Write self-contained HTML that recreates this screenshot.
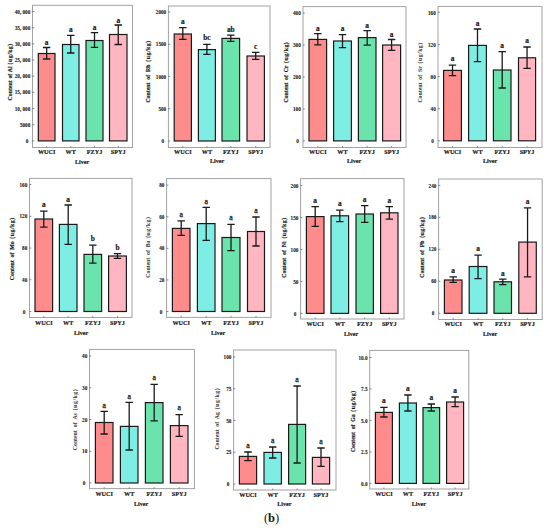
<!DOCTYPE html>
<html><head><meta charset="utf-8"><style>
html,body{margin:0;padding:0;background:#fff;}
body{width:550px;height:530px;overflow:hidden;}
svg{display:block;}
text{font-family:"Liberation Serif",serif;fill:#1a1a1a;stroke:#1a1a1a;stroke-width:0.18px;}
.tk{font-size:5.2px;font-weight:bold;text-anchor:end;stroke-width:0.1px;}
.lt{font-size:7.4px;font-weight:bold;text-anchor:middle;}
.lr{font-size:7.8px;font-weight:normal;stroke-width:0.3px;}
.xl{font-size:6.2px;font-weight:bold;text-anchor:middle;}
.lv{font-size:6.1px;font-weight:bold;text-anchor:middle;}
.yl{font-size:5.8px;text-anchor:middle;}
.ug{letter-spacing:0.5px;}
.cap{font-size:12.5px;text-anchor:middle;}
</style></head><body>
<svg width="550" height="530" viewBox="0 0 550 530">
<rect width="550" height="530" fill="#fff"/>
<rect x="32.5" y="5.3" width="100" height="142.2" fill="none" stroke="#a2a2a2" stroke-width="1"/>
<line x1="32.5" y1="140.9" x2="34.3" y2="140.9" stroke="#555" stroke-width="0.7"/>
<text class="tk" x="28.3" y="143">0</text>
<line x1="32.5" y1="124.73" x2="34.3" y2="124.73" stroke="#555" stroke-width="0.7"/>
<text class="tk" x="30.3" y="126.83">5000</text>
<line x1="32.5" y1="108.55" x2="34.3" y2="108.55" stroke="#555" stroke-width="0.7"/>
<text class="tk" x="30.3" y="110.65">10, 000</text>
<line x1="32.5" y1="92.38" x2="34.3" y2="92.38" stroke="#555" stroke-width="0.7"/>
<text class="tk" x="30.3" y="94.47">15, 000</text>
<line x1="32.5" y1="76.2" x2="34.3" y2="76.2" stroke="#555" stroke-width="0.7"/>
<text class="tk" x="30.3" y="78.3">20, 000</text>
<line x1="32.5" y1="60.03" x2="34.3" y2="60.03" stroke="#555" stroke-width="0.7"/>
<text class="tk" x="30.3" y="62.13">25, 000</text>
<line x1="32.5" y1="43.85" x2="34.3" y2="43.85" stroke="#555" stroke-width="0.7"/>
<text class="tk" x="30.3" y="45.95">30, 000</text>
<line x1="32.5" y1="27.67" x2="34.3" y2="27.67" stroke="#555" stroke-width="0.7"/>
<text class="tk" x="30.3" y="29.77">35, 000</text>
<line x1="32.5" y1="11.5" x2="34.3" y2="11.5" stroke="#555" stroke-width="0.7"/>
<text class="tk" x="30.3" y="13.6">40, 000</text>
<rect x="38.3" y="53.5" width="16.7" height="87.4" fill="#ff8c8c" stroke="#1a1a1a" stroke-width="1.2"/>
<path d="M46.65 47.5V59M42.95 47.5H50.35M42.95 59H50.35" stroke="#1a1a1a" stroke-width="1.3" fill="none"/>
<text class="lt" x="46.65" y="44.5">a</text>
<line x1="46.65" y1="147.5" x2="46.65" y2="145.9" stroke="#555" stroke-width="0.6"/>
<text class="xl" x="46.65" y="154.1">WUCI</text>
<rect x="62.5" y="44.5" width="16.5" height="96.4" fill="#7eeee4" stroke="#1a1a1a" stroke-width="1.2"/>
<path d="M70.75 35.3V53M67.05 35.3H74.45M67.05 53H74.45" stroke="#1a1a1a" stroke-width="1.3" fill="none"/>
<text class="lt" x="70.75" y="32">a</text>
<line x1="70.75" y1="147.5" x2="70.75" y2="145.9" stroke="#555" stroke-width="0.6"/>
<text class="xl" x="70.75" y="154.1">WT</text>
<rect x="86" y="40.5" width="17" height="100.4" fill="#6ae3ad" stroke="#1a1a1a" stroke-width="1.2"/>
<path d="M94.5 32.7V47.3M90.8 32.7H98.2M90.8 47.3H98.2" stroke="#1a1a1a" stroke-width="1.3" fill="none"/>
<text class="lt" x="94.5" y="30">a</text>
<line x1="94.5" y1="147.5" x2="94.5" y2="145.9" stroke="#555" stroke-width="0.6"/>
<text class="xl" x="94.5" y="154.1">FZYJ</text>
<rect x="109.5" y="34.5" width="17.5" height="106.4" fill="#ffb6c0" stroke="#1a1a1a" stroke-width="1.2"/>
<path d="M118.25 25V44.5M114.55 25H121.95M114.55 44.5H121.95" stroke="#1a1a1a" stroke-width="1.3" fill="none"/>
<text class="lt" x="118.25" y="23">a</text>
<line x1="118.25" y1="147.5" x2="118.25" y2="145.9" stroke="#555" stroke-width="0.6"/>
<text class="xl" x="118.25" y="154.1">SPYJ</text>
<text class="lv" x="82" y="163.6">Liver</text>
<text class="yl" font-weight="bold" style="fill:#1a1a1a;stroke:#1a1a1a;stroke-width:0.18px" word-spacing="0.42" transform="translate(11.7 71.85) rotate(-90)" x="0" y="0">Content of Al <tspan class="ug">(ug/kg)</tspan></text>
<rect x="168.4" y="6" width="101.6" height="141.5" fill="none" stroke="#a2a2a2" stroke-width="1"/>
<line x1="168.4" y1="141" x2="170.2" y2="141" stroke="#555" stroke-width="0.7"/>
<text class="tk" x="164.2" y="143.1">0</text>
<line x1="168.4" y1="108.75" x2="170.2" y2="108.75" stroke="#555" stroke-width="0.7"/>
<text class="tk" x="166.2" y="110.85">500</text>
<line x1="168.4" y1="76.5" x2="170.2" y2="76.5" stroke="#555" stroke-width="0.7"/>
<text class="tk" x="166.2" y="78.6">1000</text>
<line x1="168.4" y1="44.25" x2="170.2" y2="44.25" stroke="#555" stroke-width="0.7"/>
<text class="tk" x="166.2" y="46.35">1500</text>
<line x1="168.4" y1="12" x2="170.2" y2="12" stroke="#555" stroke-width="0.7"/>
<text class="tk" x="166.2" y="14.1">2000</text>
<rect x="174.2" y="34" width="17.2" height="107" fill="#ff8c8c" stroke="#1a1a1a" stroke-width="1.2"/>
<path d="M182.8 27.6V39.4M179.1 27.6H186.5M179.1 39.4H186.5" stroke="#1a1a1a" stroke-width="1.3" fill="none"/>
<text class="lt" x="182.8" y="23.6">a</text>
<line x1="182.8" y1="147.5" x2="182.8" y2="145.9" stroke="#555" stroke-width="0.6"/>
<text class="xl" x="182.8" y="154.1">WUCI</text>
<rect x="198.4" y="49.6" width="17" height="91.4" fill="#7eeee4" stroke="#1a1a1a" stroke-width="1.2"/>
<path d="M206.9 44.4V54.4M203.2 44.4H210.6M203.2 54.4H210.6" stroke="#1a1a1a" stroke-width="1.3" fill="none"/>
<text class="lt" x="206.9" y="40">bc</text>
<line x1="206.9" y1="147.5" x2="206.9" y2="145.9" stroke="#555" stroke-width="0.6"/>
<text class="xl" x="206.9" y="154.1">WT</text>
<rect x="222" y="38.4" width="17.6" height="102.6" fill="#6ae3ad" stroke="#1a1a1a" stroke-width="1.2"/>
<path d="M230.8 35.2V41.4M227.1 35.2H234.5M227.1 41.4H234.5" stroke="#1a1a1a" stroke-width="1.3" fill="none"/>
<text class="lt" x="230.8" y="31.6">ab</text>
<line x1="230.8" y1="147.5" x2="230.8" y2="145.9" stroke="#555" stroke-width="0.6"/>
<text class="xl" x="230.8" y="154.1">FZYJ</text>
<rect x="247" y="56" width="17.4" height="85" fill="#ffb6c0" stroke="#1a1a1a" stroke-width="1.2"/>
<path d="M255.7 52.4V59.4M252 52.4H259.4M252 59.4H259.4" stroke="#1a1a1a" stroke-width="1.3" fill="none"/>
<text class="lt" x="255.7" y="49.2">c</text>
<line x1="255.7" y1="147.5" x2="255.7" y2="145.9" stroke="#555" stroke-width="0.6"/>
<text class="xl" x="255.7" y="154.1">SPYJ</text>
<text class="lv" x="217" y="163.3">Liver</text>
<text class="yl" font-weight="bold" style="fill:#1a1a1a;stroke:#1a1a1a;stroke-width:0.18px" word-spacing="1.47" transform="translate(150.2 71.5) rotate(-90)" x="0" y="0">Content of Rb <tspan class="ug">(ug/kg)</tspan></text>
<rect x="303" y="6.6" width="103" height="140.9" fill="none" stroke="#a2a2a2" stroke-width="1"/>
<line x1="303" y1="140.9" x2="304.8" y2="140.9" stroke="#555" stroke-width="0.7"/>
<text class="tk" x="298.8" y="143">0</text>
<line x1="303" y1="108.98" x2="304.8" y2="108.98" stroke="#555" stroke-width="0.7"/>
<text class="tk" x="300.8" y="111.08">100</text>
<line x1="303" y1="77.05" x2="304.8" y2="77.05" stroke="#555" stroke-width="0.7"/>
<text class="tk" x="300.8" y="79.15">200</text>
<line x1="303" y1="45.12" x2="304.8" y2="45.12" stroke="#555" stroke-width="0.7"/>
<text class="tk" x="300.8" y="47.23">300</text>
<line x1="303" y1="13.2" x2="304.8" y2="13.2" stroke="#555" stroke-width="0.7"/>
<text class="tk" x="300.8" y="15.3">400</text>
<rect x="309" y="39.4" width="17.6" height="101.5" fill="#ff8c8c" stroke="#1a1a1a" stroke-width="1.2"/>
<path d="M317.8 33.6V44.8M314.1 33.6H321.5M314.1 44.8H321.5" stroke="#1a1a1a" stroke-width="1.3" fill="none"/>
<text class="lt" x="317.8" y="31">a</text>
<line x1="317.8" y1="147.5" x2="317.8" y2="145.9" stroke="#555" stroke-width="0.6"/>
<text class="xl" x="317.8" y="153.7">WUCI</text>
<rect x="333.6" y="41" width="17.8" height="99.9" fill="#7eeee4" stroke="#1a1a1a" stroke-width="1.2"/>
<path d="M342.5 34.6V47.6M338.8 34.6H346.2M338.8 47.6H346.2" stroke="#1a1a1a" stroke-width="1.3" fill="none"/>
<text class="lt" x="342.5" y="31">a</text>
<line x1="342.5" y1="147.5" x2="342.5" y2="145.9" stroke="#555" stroke-width="0.6"/>
<text class="xl" x="342.5" y="153.7">WT</text>
<rect x="358.4" y="37.6" width="17.6" height="103.3" fill="#6ae3ad" stroke="#1a1a1a" stroke-width="1.2"/>
<path d="M367.2 30.6V45.2M363.5 30.6H370.9M363.5 45.2H370.9" stroke="#1a1a1a" stroke-width="1.3" fill="none"/>
<text class="lt" x="367.2" y="28">a</text>
<line x1="367.2" y1="147.5" x2="367.2" y2="145.9" stroke="#555" stroke-width="0.6"/>
<text class="xl" x="367.2" y="153.7">FZYJ</text>
<rect x="382.6" y="45" width="18" height="95.9" fill="#ffb6c0" stroke="#1a1a1a" stroke-width="1.2"/>
<path d="M391.6 39.5V50.4M387.9 39.5H395.3M387.9 50.4H395.3" stroke="#1a1a1a" stroke-width="1.3" fill="none"/>
<text class="lt" x="391.6" y="36.5">a</text>
<line x1="391.6" y1="147.5" x2="391.6" y2="145.9" stroke="#555" stroke-width="0.6"/>
<text class="xl" x="391.6" y="153.7">SPYJ</text>
<text class="lv" x="354" y="163.3">Liver</text>
<text class="yl" font-weight="bold" style="fill:#1a1a1a;stroke:#1a1a1a;stroke-width:0.18px" word-spacing="1.29" transform="translate(287.7 72.15) rotate(-90)" x="0" y="0">Content of Cr <tspan class="ug">(ug/kg)</tspan></text>
<rect x="438" y="6.4" width="104" height="141.1" fill="none" stroke="#a2a2a2" stroke-width="1"/>
<line x1="438" y1="140.8" x2="439.8" y2="140.8" stroke="#555" stroke-width="0.7"/>
<text class="tk" x="433.8" y="142.9">0</text>
<line x1="438" y1="108.7" x2="439.8" y2="108.7" stroke="#555" stroke-width="0.7"/>
<text class="tk" x="435.8" y="110.8">40</text>
<line x1="438" y1="76.6" x2="439.8" y2="76.6" stroke="#555" stroke-width="0.7"/>
<text class="tk" x="435.8" y="78.7">80</text>
<line x1="438" y1="44.5" x2="439.8" y2="44.5" stroke="#555" stroke-width="0.7"/>
<text class="tk" x="435.8" y="46.6">120</text>
<line x1="438" y1="12.4" x2="439.8" y2="12.4" stroke="#555" stroke-width="0.7"/>
<text class="tk" x="435.8" y="14.5">160</text>
<rect x="443.6" y="70.4" width="17.8" height="70.4" fill="#ff8c8c" stroke="#1a1a1a" stroke-width="1.2"/>
<path d="M452.5 65.2V75.6M448.8 65.2H456.2M448.8 75.6H456.2" stroke="#1a1a1a" stroke-width="1.3" fill="none"/>
<text class="lt" x="452.5" y="61.2">a</text>
<line x1="452.5" y1="147.5" x2="452.5" y2="145.9" stroke="#555" stroke-width="0.6"/>
<text class="xl" x="452.5" y="154.3">WUCI</text>
<rect x="468.6" y="45.4" width="17.8" height="95.4" fill="#7eeee4" stroke="#1a1a1a" stroke-width="1.2"/>
<path d="M477.5 29V61.6M473.8 29H481.2M473.8 61.6H481.2" stroke="#1a1a1a" stroke-width="1.3" fill="none"/>
<text class="lt" x="477.5" y="25.6">a</text>
<line x1="477.5" y1="147.5" x2="477.5" y2="145.9" stroke="#555" stroke-width="0.6"/>
<text class="xl" x="477.5" y="154.3">WT</text>
<rect x="493.4" y="70" width="17.6" height="70.8" fill="#6ae3ad" stroke="#1a1a1a" stroke-width="1.2"/>
<path d="M502.2 51.6V88M498.5 51.6H505.9M498.5 88H505.9" stroke="#1a1a1a" stroke-width="1.3" fill="none"/>
<text class="lt" x="502.2" y="48">a</text>
<line x1="502.2" y1="147.5" x2="502.2" y2="145.9" stroke="#555" stroke-width="0.6"/>
<text class="xl" x="502.2" y="154.3">FZYJ</text>
<rect x="518.5" y="57.8" width="17.1" height="83" fill="#ffb6c0" stroke="#1a1a1a" stroke-width="1.2"/>
<path d="M527.05 47V68.4M523.35 47H530.75M523.35 68.4H530.75" stroke="#1a1a1a" stroke-width="1.3" fill="none"/>
<text class="lt" x="527.05" y="43.4">a</text>
<line x1="527.05" y1="147.5" x2="527.05" y2="145.9" stroke="#555" stroke-width="0.6"/>
<text class="xl" x="527.05" y="154.3">SPYJ</text>
<text class="lv" x="490" y="163.3">Liver</text>
<text class="yl" font-weight="bold" style="fill:#3a3a3a;stroke:#3a3a3a;stroke-width:0.05px" word-spacing="1.41" transform="translate(422.2 72.45) rotate(-90)" x="0" y="0">Content of Sr <tspan class="ug">(ug/kg)</tspan></text>
<rect x="29.5" y="178.4" width="102.5" height="139.1" fill="none" stroke="#a2a2a2" stroke-width="1"/>
<line x1="29.5" y1="311.5" x2="31.3" y2="311.5" stroke="#555" stroke-width="0.7"/>
<text class="tk" x="25.3" y="313.6">0</text>
<line x1="29.5" y1="279.77" x2="31.3" y2="279.77" stroke="#555" stroke-width="0.7"/>
<text class="tk" x="27.3" y="281.88">40</text>
<line x1="29.5" y1="248.05" x2="31.3" y2="248.05" stroke="#555" stroke-width="0.7"/>
<text class="tk" x="27.3" y="250.15">80</text>
<line x1="29.5" y1="216.32" x2="31.3" y2="216.32" stroke="#555" stroke-width="0.7"/>
<text class="tk" x="27.3" y="218.42">120</text>
<line x1="29.5" y1="184.6" x2="31.3" y2="184.6" stroke="#555" stroke-width="0.7"/>
<text class="tk" x="27.3" y="186.7">160</text>
<rect x="35" y="219" width="17.6" height="92.5" fill="#ff8c8c" stroke="#1a1a1a" stroke-width="1.2"/>
<path d="M43.8 211.2V227.2M40.1 211.2H47.5M40.1 227.2H47.5" stroke="#1a1a1a" stroke-width="1.3" fill="none"/>
<text class="lt" x="43.8" y="207.4">a</text>
<line x1="43.8" y1="317.5" x2="43.8" y2="315.9" stroke="#555" stroke-width="0.6"/>
<text class="xl" x="43.8" y="324.9">WUCI</text>
<rect x="59.4" y="224.4" width="17.6" height="87.1" fill="#7eeee4" stroke="#1a1a1a" stroke-width="1.2"/>
<path d="M68.2 205V244.4M64.5 205H71.9M64.5 244.4H71.9" stroke="#1a1a1a" stroke-width="1.3" fill="none"/>
<text class="lt" x="68.2" y="201.6">a</text>
<line x1="68.2" y1="317.5" x2="68.2" y2="315.9" stroke="#555" stroke-width="0.6"/>
<text class="xl" x="68.2" y="324.9">WT</text>
<rect x="84" y="254.4" width="17.6" height="57.1" fill="#6ae3ad" stroke="#1a1a1a" stroke-width="1.2"/>
<path d="M92.8 245.2V263.2M89.1 245.2H96.5M89.1 263.2H96.5" stroke="#1a1a1a" stroke-width="1.3" fill="none"/>
<text class="lt" x="92.8" y="241">b</text>
<line x1="92.8" y1="317.5" x2="92.8" y2="315.9" stroke="#555" stroke-width="0.6"/>
<text class="xl" x="92.8" y="324.9">FZYJ</text>
<rect x="108.6" y="256" width="17.8" height="55.5" fill="#ffb6c0" stroke="#1a1a1a" stroke-width="1.2"/>
<path d="M117.5 253.6V258.4M113.8 253.6H121.2M113.8 258.4H121.2" stroke="#1a1a1a" stroke-width="1.3" fill="none"/>
<text class="lt" x="117.5" y="249.6">b</text>
<line x1="117.5" y1="317.5" x2="117.5" y2="315.9" stroke="#555" stroke-width="0.6"/>
<text class="xl" x="117.5" y="324.9">SPYJ</text>
<text class="lv" x="81" y="334.7">Liver</text>
<text class="yl" font-weight="bold" style="fill:#1a1a1a;stroke:#1a1a1a;stroke-width:0.18px" word-spacing="1.35" transform="translate(13.7 248.8) rotate(-90)" x="0" y="0">Content of Mo <tspan class="ug">(ug/kg)</tspan></text>
<rect x="166.6" y="178.6" width="104.4" height="138.8" fill="none" stroke="#a2a2a2" stroke-width="1"/>
<line x1="166.6" y1="311.5" x2="168.4" y2="311.5" stroke="#555" stroke-width="0.7"/>
<text class="tk" x="162.4" y="313.6">0</text>
<line x1="166.6" y1="279.93" x2="168.4" y2="279.93" stroke="#555" stroke-width="0.7"/>
<text class="tk" x="164.4" y="282.03">20</text>
<line x1="166.6" y1="248.35" x2="168.4" y2="248.35" stroke="#555" stroke-width="0.7"/>
<text class="tk" x="164.4" y="250.45">40</text>
<line x1="166.6" y1="216.77" x2="168.4" y2="216.77" stroke="#555" stroke-width="0.7"/>
<text class="tk" x="164.4" y="218.87">60</text>
<line x1="166.6" y1="185.2" x2="168.4" y2="185.2" stroke="#555" stroke-width="0.7"/>
<text class="tk" x="164.4" y="187.3">80</text>
<rect x="172.4" y="228.4" width="17.6" height="83.1" fill="#ff8c8c" stroke="#1a1a1a" stroke-width="1.2"/>
<path d="M181.2 220.8V235.4M177.5 220.8H184.9M177.5 235.4H184.9" stroke="#1a1a1a" stroke-width="1.3" fill="none"/>
<text class="lt lr" x="181.2" y="217">a</text>
<line x1="181.2" y1="317.4" x2="181.2" y2="315.8" stroke="#555" stroke-width="0.6"/>
<text class="xl" x="181.2" y="324.5">WUCI</text>
<rect x="197.4" y="223.6" width="17.6" height="87.9" fill="#7eeee4" stroke="#1a1a1a" stroke-width="1.2"/>
<path d="M206.2 207.4V240.4M202.5 207.4H209.9M202.5 240.4H209.9" stroke="#1a1a1a" stroke-width="1.3" fill="none"/>
<text class="lt lr" x="206.2" y="203.6">a</text>
<line x1="206.2" y1="317.4" x2="206.2" y2="315.8" stroke="#555" stroke-width="0.6"/>
<text class="xl" x="206.2" y="324.5">WT</text>
<rect x="222" y="237.5" width="18" height="74" fill="#6ae3ad" stroke="#1a1a1a" stroke-width="1.2"/>
<path d="M231 224.3V250.6M227.3 224.3H234.7M227.3 250.6H234.7" stroke="#1a1a1a" stroke-width="1.3" fill="none"/>
<text class="lt lr" x="231" y="220">a</text>
<line x1="231" y1="317.4" x2="231" y2="315.8" stroke="#555" stroke-width="0.6"/>
<text class="xl" x="231" y="324.5">FZYJ</text>
<rect x="247.5" y="231.5" width="17" height="80" fill="#ffb6c0" stroke="#1a1a1a" stroke-width="1.2"/>
<path d="M256 217V246M252.3 217H259.7M252.3 246H259.7" stroke="#1a1a1a" stroke-width="1.3" fill="none"/>
<text class="lt lr" x="256" y="213">a</text>
<line x1="256" y1="317.4" x2="256" y2="315.8" stroke="#555" stroke-width="0.6"/>
<text class="xl" x="256" y="324.5">SPYJ</text>
<text class="lv" x="218" y="334.7">Liver</text>
<text class="yl" font-weight="bold" style="fill:#3a3a3a;stroke:#3a3a3a;stroke-width:0.05px" word-spacing="1.32" transform="translate(150.2 247.15) rotate(-90)" x="0" y="0">Content of Ba <tspan class="ug">(ug/kg)</tspan></text>
<rect x="300.6" y="178.6" width="103.4" height="140.4" fill="none" stroke="#a2a2a2" stroke-width="1"/>
<line x1="300.6" y1="313.4" x2="302.4" y2="313.4" stroke="#555" stroke-width="0.7"/>
<text class="tk" x="296.4" y="315.5">0</text>
<line x1="300.6" y1="281.4" x2="302.4" y2="281.4" stroke="#555" stroke-width="0.7"/>
<text class="tk" x="298.4" y="283.5">50</text>
<line x1="300.6" y1="249.4" x2="302.4" y2="249.4" stroke="#555" stroke-width="0.7"/>
<text class="tk" x="298.4" y="251.5">100</text>
<line x1="300.6" y1="217.4" x2="302.4" y2="217.4" stroke="#555" stroke-width="0.7"/>
<text class="tk" x="298.4" y="219.5">150</text>
<line x1="300.6" y1="185.4" x2="302.4" y2="185.4" stroke="#555" stroke-width="0.7"/>
<text class="tk" x="298.4" y="187.5">200</text>
<rect x="306.4" y="216.6" width="17.6" height="96.8" fill="#ff8c8c" stroke="#1a1a1a" stroke-width="1.2"/>
<path d="M315.2 206.6V226.4M311.5 206.6H318.9M311.5 226.4H318.9" stroke="#1a1a1a" stroke-width="1.3" fill="none"/>
<text class="lt" x="315.2" y="202.6">a</text>
<line x1="315.2" y1="319" x2="315.2" y2="317.4" stroke="#555" stroke-width="0.6"/>
<text class="xl" x="315.2" y="326.1">WUCI</text>
<rect x="331" y="215.8" width="17.6" height="97.6" fill="#7eeee4" stroke="#1a1a1a" stroke-width="1.2"/>
<path d="M339.8 210.2V221.6M336.1 210.2H343.5M336.1 221.6H343.5" stroke="#1a1a1a" stroke-width="1.3" fill="none"/>
<text class="lt" x="339.8" y="206.4">a</text>
<line x1="339.8" y1="319" x2="339.8" y2="317.4" stroke="#555" stroke-width="0.6"/>
<text class="xl" x="339.8" y="326.1">WT</text>
<rect x="356" y="214" width="17.4" height="99.4" fill="#6ae3ad" stroke="#1a1a1a" stroke-width="1.2"/>
<path d="M364.7 205.6V222.4M361 205.6H368.4M361 222.4H368.4" stroke="#1a1a1a" stroke-width="1.3" fill="none"/>
<text class="lt" x="364.7" y="201.6">a</text>
<line x1="364.7" y1="319" x2="364.7" y2="317.4" stroke="#555" stroke-width="0.6"/>
<text class="xl" x="364.7" y="326.1">FZYJ</text>
<rect x="380.6" y="212.8" width="17.4" height="100.6" fill="#ffb6c0" stroke="#1a1a1a" stroke-width="1.2"/>
<path d="M389.3 206.6V219.2M385.6 206.6H393M385.6 219.2H393" stroke="#1a1a1a" stroke-width="1.3" fill="none"/>
<text class="lt" x="389.3" y="203">a</text>
<line x1="389.3" y1="319" x2="389.3" y2="317.4" stroke="#555" stroke-width="0.6"/>
<text class="xl" x="389.3" y="326.1">SPYJ</text>
<text class="lv" x="351" y="335.5">Liver</text>
<text class="yl" font-weight="bold" style="fill:#1a1a1a;stroke:#1a1a1a;stroke-width:0.18px" word-spacing="1.38" transform="translate(286.4 247.55) rotate(-90)" x="0" y="0">Content of Ni <tspan class="ug">(ug/kg)</tspan></text>
<rect x="438.6" y="179" width="103.6" height="140.5" fill="none" stroke="#a2a2a2" stroke-width="1"/>
<line x1="438.6" y1="313.3" x2="440.4" y2="313.3" stroke="#555" stroke-width="0.7"/>
<text class="tk" x="434.4" y="315.4">0</text>
<line x1="438.6" y1="281.32" x2="440.4" y2="281.32" stroke="#555" stroke-width="0.7"/>
<text class="tk" x="436.4" y="283.43">60</text>
<line x1="438.6" y1="249.35" x2="440.4" y2="249.35" stroke="#555" stroke-width="0.7"/>
<text class="tk" x="436.4" y="251.45">120</text>
<line x1="438.6" y1="217.38" x2="440.4" y2="217.38" stroke="#555" stroke-width="0.7"/>
<text class="tk" x="436.4" y="219.47">180</text>
<line x1="438.6" y1="185.4" x2="440.4" y2="185.4" stroke="#555" stroke-width="0.7"/>
<text class="tk" x="436.4" y="187.5">240</text>
<rect x="444.4" y="280" width="17.6" height="33.3" fill="#ff8c8c" stroke="#1a1a1a" stroke-width="1.2"/>
<path d="M453.2 276.9V282.3M449.5 276.9H456.9M449.5 282.3H456.9" stroke="#1a1a1a" stroke-width="1.3" fill="none"/>
<text class="lt" x="453.2" y="273.2">a</text>
<line x1="453.2" y1="319.5" x2="453.2" y2="317.9" stroke="#555" stroke-width="0.6"/>
<text class="xl" x="453.2" y="326.3">WUCI</text>
<rect x="469.2" y="266.5" width="17.7" height="46.8" fill="#7eeee4" stroke="#1a1a1a" stroke-width="1.2"/>
<path d="M478.05 255.1V278.7M474.35 255.1H481.75M474.35 278.7H481.75" stroke="#1a1a1a" stroke-width="1.3" fill="none"/>
<text class="lt" x="478.05" y="251.2">a</text>
<line x1="478.05" y1="319.5" x2="478.05" y2="317.9" stroke="#555" stroke-width="0.6"/>
<text class="xl" x="478.05" y="326.3">WT</text>
<rect x="494" y="281.8" width="17.5" height="31.5" fill="#6ae3ad" stroke="#1a1a1a" stroke-width="1.2"/>
<path d="M502.75 279.2V284.7M499.05 279.2H506.45M499.05 284.7H506.45" stroke="#1a1a1a" stroke-width="1.3" fill="none"/>
<text class="lt" x="502.75" y="275.5">a</text>
<line x1="502.75" y1="319.5" x2="502.75" y2="317.9" stroke="#555" stroke-width="0.6"/>
<text class="xl" x="502.75" y="326.3">FZYJ</text>
<rect x="518.8" y="242.1" width="17.5" height="71.2" fill="#ffb6c0" stroke="#1a1a1a" stroke-width="1.2"/>
<path d="M527.55 207.8V276.9M523.85 207.8H531.25M523.85 276.9H531.25" stroke="#1a1a1a" stroke-width="1.3" fill="none"/>
<text class="lt" x="527.55" y="203.9">a</text>
<line x1="527.55" y1="319.5" x2="527.55" y2="317.9" stroke="#555" stroke-width="0.6"/>
<text class="xl" x="527.55" y="326.3">SPYJ</text>
<text class="lv" x="490" y="335.8">Liver</text>
<text class="yl" font-weight="bold" style="fill:#1a1a1a;stroke:#1a1a1a;stroke-width:0.18px" word-spacing="1.32" transform="translate(423.7 247.15) rotate(-90)" x="0" y="0">Content of Pb <tspan class="ug">(ug/kg)</tspan></text>
<rect x="89.5" y="349.4" width="104.9" height="139.2" fill="none" stroke="#a2a2a2" stroke-width="1"/>
<line x1="89.5" y1="483" x2="91.3" y2="483" stroke="#555" stroke-width="0.7"/>
<text class="tk" x="85.3" y="485.1">0</text>
<line x1="89.5" y1="451.25" x2="91.3" y2="451.25" stroke="#555" stroke-width="0.7"/>
<text class="tk" x="87.3" y="453.35">10</text>
<line x1="89.5" y1="419.5" x2="91.3" y2="419.5" stroke="#555" stroke-width="0.7"/>
<text class="tk" x="87.3" y="421.6">20</text>
<line x1="89.5" y1="387.75" x2="91.3" y2="387.75" stroke="#555" stroke-width="0.7"/>
<text class="tk" x="87.3" y="389.85">30</text>
<line x1="89.5" y1="356" x2="91.3" y2="356" stroke="#555" stroke-width="0.7"/>
<text class="tk" x="87.3" y="358.1">40</text>
<rect x="95.4" y="422.5" width="17.6" height="60.5" fill="#ff8c8c" stroke="#1a1a1a" stroke-width="1.2"/>
<path d="M104.2 411.4V434M100.5 411.4H107.9M100.5 434H107.9" stroke="#1a1a1a" stroke-width="1.3" fill="none"/>
<text class="lt lr" x="104.2" y="407.6">a</text>
<line x1="104.2" y1="488.6" x2="104.2" y2="487" stroke="#555" stroke-width="0.6"/>
<text class="xl" x="104.2" y="495.7">WUCI</text>
<rect x="120.4" y="426.4" width="17.6" height="56.6" fill="#7eeee4" stroke="#1a1a1a" stroke-width="1.2"/>
<path d="M129.2 402.4V450M125.5 402.4H132.9M125.5 450H132.9" stroke="#1a1a1a" stroke-width="1.3" fill="none"/>
<text class="lt lr" x="129.2" y="398.6">a</text>
<line x1="129.2" y1="488.6" x2="129.2" y2="487" stroke="#555" stroke-width="0.6"/>
<text class="xl" x="129.2" y="495.7">WT</text>
<rect x="145.4" y="402.6" width="17.6" height="80.4" fill="#6ae3ad" stroke="#1a1a1a" stroke-width="1.2"/>
<path d="M154.2 384.4V420.8M150.5 384.4H157.9M150.5 420.8H157.9" stroke="#1a1a1a" stroke-width="1.3" fill="none"/>
<text class="lt lr" x="154.2" y="380">a</text>
<line x1="154.2" y1="488.6" x2="154.2" y2="487" stroke="#555" stroke-width="0.6"/>
<text class="xl" x="154.2" y="495.7">FZYJ</text>
<rect x="170.4" y="425.6" width="17.6" height="57.4" fill="#ffb6c0" stroke="#1a1a1a" stroke-width="1.2"/>
<path d="M179.2 414.6V436.4M175.5 414.6H182.9M175.5 436.4H182.9" stroke="#1a1a1a" stroke-width="1.3" fill="none"/>
<text class="lt lr" x="179.2" y="410.4">a</text>
<line x1="179.2" y1="488.6" x2="179.2" y2="487" stroke="#555" stroke-width="0.6"/>
<text class="xl" x="179.2" y="495.7">SPYJ</text>
<text class="lv" x="141" y="505.9">Liver</text>
<text class="yl" font-weight="bold" style="fill:#3a3a3a;stroke:#3a3a3a;stroke-width:0.05px" word-spacing="1.6" transform="translate(76.7 419.55) rotate(-90)" x="0" y="0">Content of As <tspan class="ug">(ug/kg)</tspan></text>
<rect x="233.6" y="350" width="102.4" height="140" fill="none" stroke="#a2a2a2" stroke-width="1"/>
<line x1="233.6" y1="484" x2="235.4" y2="484" stroke="#555" stroke-width="0.7"/>
<text class="tk" x="229.4" y="486.1">0</text>
<line x1="233.6" y1="452.25" x2="235.4" y2="452.25" stroke="#555" stroke-width="0.7"/>
<text class="tk" x="231.4" y="454.35">25</text>
<line x1="233.6" y1="420.5" x2="235.4" y2="420.5" stroke="#555" stroke-width="0.7"/>
<text class="tk" x="231.4" y="422.6">50</text>
<line x1="233.6" y1="388.75" x2="235.4" y2="388.75" stroke="#555" stroke-width="0.7"/>
<text class="tk" x="231.4" y="390.85">75</text>
<line x1="233.6" y1="357" x2="235.4" y2="357" stroke="#555" stroke-width="0.7"/>
<text class="tk" x="231.4" y="359.1">100</text>
<rect x="239.4" y="456.4" width="17.2" height="27.6" fill="#ff8c8c" stroke="#1a1a1a" stroke-width="1.2"/>
<path d="M248 452V460.6M244.3 452H251.7M244.3 460.6H251.7" stroke="#1a1a1a" stroke-width="1.3" fill="none"/>
<text class="lt lr" x="248" y="448">a</text>
<line x1="248" y1="490" x2="248" y2="488.4" stroke="#555" stroke-width="0.6"/>
<text class="xl" x="248" y="496.7">WUCI</text>
<rect x="264" y="452.4" width="17.4" height="31.6" fill="#7eeee4" stroke="#1a1a1a" stroke-width="1.2"/>
<path d="M272.7 447V458M269 447H276.4M269 458H276.4" stroke="#1a1a1a" stroke-width="1.3" fill="none"/>
<text class="lt lr" x="272.7" y="443">a</text>
<line x1="272.7" y1="490" x2="272.7" y2="488.4" stroke="#555" stroke-width="0.6"/>
<text class="xl" x="272.7" y="496.7">WT</text>
<rect x="288.6" y="424.4" width="17" height="59.6" fill="#6ae3ad" stroke="#1a1a1a" stroke-width="1.2"/>
<path d="M297.1 386V463M293.4 386H300.8M293.4 463H300.8" stroke="#1a1a1a" stroke-width="1.3" fill="none"/>
<text class="lt lr" x="297.1" y="382">a</text>
<line x1="297.1" y1="490" x2="297.1" y2="488.4" stroke="#555" stroke-width="0.6"/>
<text class="xl" x="297.1" y="496.7">FZYJ</text>
<rect x="312.4" y="457.4" width="17.2" height="26.6" fill="#ffb6c0" stroke="#1a1a1a" stroke-width="1.2"/>
<path d="M321 448V466.4M317.3 448H324.7M317.3 466.4H324.7" stroke="#1a1a1a" stroke-width="1.3" fill="none"/>
<text class="lt lr" x="321" y="444">a</text>
<line x1="321" y1="490" x2="321" y2="488.4" stroke="#555" stroke-width="0.6"/>
<text class="xl" x="321" y="496.7">SPYJ</text>
<text class="lv" x="284.4" y="505.9">Liver</text>
<text class="yl" font-weight="bold" style="fill:#3a3a3a;stroke:#3a3a3a;stroke-width:0.05px" word-spacing="1.52" transform="translate(219 418.75) rotate(-90)" x="0" y="0">Content of Ag <tspan class="ug">(ug/kg)</tspan></text>
<rect x="369.7" y="350.4" width="99.1" height="138.6" fill="none" stroke="#a2a2a2" stroke-width="1"/>
<line x1="369.7" y1="483.4" x2="371.5" y2="483.4" stroke="#555" stroke-width="0.7"/>
<text class="tk" x="367.5" y="485.5">0.0</text>
<line x1="369.7" y1="451.9" x2="371.5" y2="451.9" stroke="#555" stroke-width="0.7"/>
<text class="tk" x="367.5" y="454">2.5</text>
<line x1="369.7" y1="420.4" x2="371.5" y2="420.4" stroke="#555" stroke-width="0.7"/>
<text class="tk" x="367.5" y="422.5">5.0</text>
<line x1="369.7" y1="388.9" x2="371.5" y2="388.9" stroke="#555" stroke-width="0.7"/>
<text class="tk" x="367.5" y="391">7.5</text>
<line x1="369.7" y1="357.4" x2="371.5" y2="357.4" stroke="#555" stroke-width="0.7"/>
<text class="tk" x="367.5" y="359.5">10.0</text>
<rect x="375.4" y="412.4" width="17" height="71" fill="#ff8c8c" stroke="#1a1a1a" stroke-width="1.2"/>
<path d="M383.9 407.4V417M380.2 407.4H387.6M380.2 417H387.6" stroke="#1a1a1a" stroke-width="1.3" fill="none"/>
<text class="lt" x="383.9" y="402.6">a</text>
<line x1="383.9" y1="489" x2="383.9" y2="487.4" stroke="#555" stroke-width="0.6"/>
<text class="xl" x="383.9" y="495.7">WUCI</text>
<rect x="399.4" y="403" width="17" height="80.4" fill="#7eeee4" stroke="#1a1a1a" stroke-width="1.2"/>
<path d="M407.9 395V411M404.2 395H411.6M404.2 411H411.6" stroke="#1a1a1a" stroke-width="1.3" fill="none"/>
<text class="lt" x="407.9" y="391">a</text>
<line x1="407.9" y1="489" x2="407.9" y2="487.4" stroke="#555" stroke-width="0.6"/>
<text class="xl" x="407.9" y="495.7">WT</text>
<rect x="423" y="407.6" width="16.6" height="75.8" fill="#6ae3ad" stroke="#1a1a1a" stroke-width="1.2"/>
<path d="M431.3 404V411M427.6 404H435M427.6 411H435" stroke="#1a1a1a" stroke-width="1.3" fill="none"/>
<text class="lt" x="431.3" y="400.4">a</text>
<line x1="431.3" y1="489" x2="431.3" y2="487.4" stroke="#555" stroke-width="0.6"/>
<text class="xl" x="431.3" y="495.7">FZYJ</text>
<rect x="446.6" y="402" width="17" height="81.4" fill="#ffb6c0" stroke="#1a1a1a" stroke-width="1.2"/>
<path d="M455.1 397V406.6M451.4 397H458.8M451.4 406.6H458.8" stroke="#1a1a1a" stroke-width="1.3" fill="none"/>
<text class="lt" x="455.1" y="393">a</text>
<line x1="455.1" y1="489" x2="455.1" y2="487.4" stroke="#555" stroke-width="0.6"/>
<text class="xl" x="455.1" y="495.7">SPYJ</text>
<text class="lv" x="418.9" y="505.6">Liver</text>
<text class="yl" font-weight="bold" style="fill:#1a1a1a;stroke:#1a1a1a;stroke-width:0.18px" word-spacing="1.31" transform="translate(355 421.25) rotate(-90)" x="0" y="0">Content of Ga <tspan class="ug">(ug/kg)</tspan></text>
<text class="cap" x="271.6" y="522" style="stroke-width:0">(<tspan font-weight="bold">b</tspan>)</text>
</svg>
</body></html>
